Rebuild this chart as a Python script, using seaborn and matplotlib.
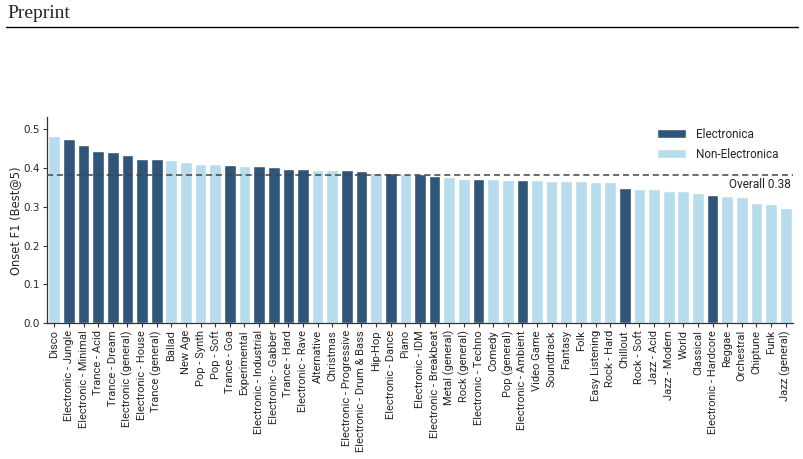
import matplotlib
matplotlib.use("Agg")
import matplotlib.pyplot as plt
import seaborn as sns
import pandas as pd
from matplotlib.lines import Line2D

genres = [
    "Disco", "Electronic - Jungle", "Electronic - Minimal", "Trance - Acid", "Trance - Dream",
    "Electronic (general)", "Electronic - House", "Trance (general)", "Ballad", "New Age",
    "Pop - Synth", "Pop - Soft", "Trance - Goa", "Experimental", "Electronic - Industrial",
    "Electronic - Gabber", "Trance - Hard", "Electronic - Rave", "Alternative", "Christmas",
    "Electronic - Progressive", "Electronic - Drum & Bass", "Hip-Hop", "Electronic - Dance", "Piano",
    "Electronic - IDM", "Electronic - Breakbeat", "Metal (general)", "Rock (general)", "Electronic - Techno",
    "Comedy", "Pop (general)", "Electronic - Ambient", "Video Game", "Soundtrack",
    "Fantasy", "Folk", "Easy Listening", "Rock - Hard", "Chillout",
    "Rock - Soft", "Jazz - Acid", "Jazz - Modern", "World", "Classical",
    "Electronic - Hardcore", "Reggae", "Orchestral", "Chiptune", "Funk",
    "Jazz (general)",
]
f1_scores = [
    0.482, 0.474, 0.459, 0.443, 0.441,
    0.433, 0.423, 0.423, 0.420, 0.415,
    0.410, 0.410, 0.407, 0.405, 0.405,
    0.402, 0.397, 0.397, 0.395, 0.395,
    0.395, 0.392, 0.387, 0.387, 0.383,
    0.384, 0.380, 0.377, 0.371, 0.371,
    0.371, 0.369, 0.369, 0.369, 0.366,
    0.366, 0.366, 0.364, 0.364, 0.348,
    0.346, 0.346, 0.341, 0.341, 0.335,
    0.330, 0.328, 0.325, 0.310, 0.307,
    0.297,
]
is_electronica = [
    0, 1, 1, 1, 1,
    1, 1, 1, 0, 0,
    0, 0, 1, 0, 1,
    1, 1, 1, 0, 0,
    1, 1, 0, 1, 0,
    1, 1, 0, 0, 1,
    0, 0, 1, 0, 0,
    0, 0, 0, 0, 1,
    0, 0, 0, 0, 0,
    1, 0, 0, 0, 0,
    0,
]
overall = 0.381
group_labels = ["Electronica", "Non-Electronica"]
group_colors = {"Electronica": "#2f5579", "Non-Electronica": "#b7dcee"}

df = pd.DataFrame({
    "genre": genres,
    "f1": f1_scores,
    "group": [group_labels[0] if e else group_labels[1] for e in is_electronica],
})

sns.set_style("ticks")
plt.rcParams["font.family"] = ["DejaVu Sans"]

fig = plt.figure(figsize=(8.04, 4.59), dpi=100)
ax = fig.add_axes([47 / 804, 1 - 323.3 / 459, (793 - 47) / 804, (323.3 - 117.3) / 459])

sns.barplot(data=df, x="genre", y="f1", hue="group", palette=group_colors,
            hue_order=group_labels, dodge=False, width=0.8, ax=ax, saturation=1)

ax.axhline(overall, color="#444444", linestyle=(0, (4, 2.5)), linewidth=1.1, zorder=3)
ax.text(0.997, overall - 0.006, f"Overall {overall:.2f}", transform=ax.get_yaxis_transform(),
        ha="right", va="top", fontsize=8.5, family="Roboto", color="#222222")

ax.set_ylim(0, 0.53)
ax.set_xlim(-0.5, len(genres) - 0.5)
ax.set_yticks([0.0, 0.1, 0.2, 0.3, 0.4, 0.5])
ax.set_yticklabels(["0.0", "0.1", "0.2", "0.3", "0.4", "0.5"], fontsize=7.5)
ax.set_xticks(range(len(genres)))
ax.set_xticklabels(genres, rotation=90, fontsize=8, family="Roboto")
ax.tick_params(axis="both", length=3, width=0.8, color="#333333", pad=2)
ax.set_xlabel("")
ax.set_ylabel("Onset F1 (Best@5)", fontsize=8.3, labelpad=1)
sns.despine(ax=ax)
for s in ["left", "bottom"]:
    ax.spines[s].set_color("#333333")
    ax.spines[s].set_linewidth(0.9)

leg = ax.legend(loc="upper right", bbox_to_anchor=(0.995, 1.0), frameon=False,
                handlelength=2.4, handleheight=0.8, handletextpad=0.9, labelspacing=0.6,
                prop={"family": "Roboto", "size": 8.5})

fig.text(7 / 804, 1 - 13 / 459, "Preprint", family="Liberation Serif", fontsize=14,
         ha="left", va="center")
fig.add_artist(Line2D([6 / 804, 798 / 804], [1 - 27 / 459, 1 - 27 / 459],
                      transform=fig.transFigure, color="black", linewidth=1.0))

fig.savefig("out.png", dpi=100)
